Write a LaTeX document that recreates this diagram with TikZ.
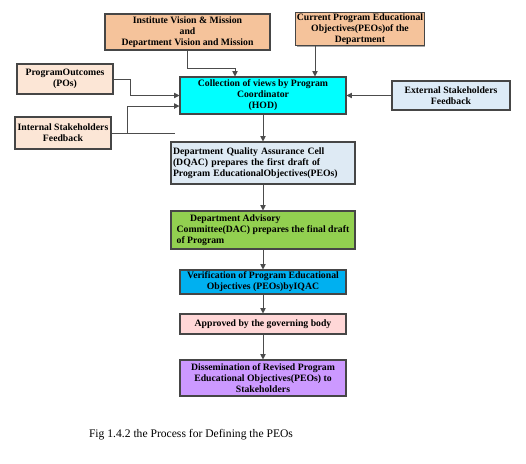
\documentclass[tikz,border=0pt]{standalone}
\usepackage{fontspec}
\setmainfont{Liberation Serif}
\usetikzlibrary{arrows.meta,shadows}
\definecolor{peachdark}{RGB}{245,195,155}
\definecolor{peachlight}{RGB}{252,230,214}
\definecolor{collcyan}{RGB}{0,255,255}
\definecolor{extblue}{RGB}{221,235,247}
\definecolor{dqacblue}{RGB}{222,234,244}
\definecolor{dacgreen}{RGB}{146,208,80}
\definecolor{verblue}{RGB}{0,176,240}
\definecolor{apppink}{RGB}{255,215,215}
\definecolor{dispurple}{RGB}{204,153,255}
\begin{document}
\begin{tikzpicture}[x=0.75pt,y=-0.75pt,
  box/.style={draw=gray!55!black, line width=0.8pt, align=center, inner sep=1pt,
    font=\fontsize{7.3}{8.3}\selectfont\bfseries,
    drop shadow={shadow xshift=0.8pt, shadow yshift=-0.8pt, fill=gray!70, opacity=1}},
  link/.style={draw=gray!60!black, line width=0.7pt},
  arr/.style={link, -{Triangle[length=4pt,width=4pt]}}]
\useasboundingbox (0,0) rectangle (526,464);
\node[box, fill=peachdark, minimum width=123.75pt, minimum height=27pt] (inst) at (187.5,32){Institute Vision \& Mission\\and\\Department Vision and Mission};
\node[box, fill=peachdark, minimum width=94.5pt, minimum height=24pt] (cpeo) at (360,29){Current Program Educational\\Objectives(PEOs)of the\\Department};
\node[box, fill=peachlight, minimum width=72pt, minimum height=22.5pt] (po) at (65,79){ProgramOutcomes\\(POs)};
\node[box, fill=collcyan, minimum width=124.5pt, minimum height=27.75pt] (coll) at (263,95.5){Collection of views by Program\\Coordinator\\(HOD)};
\node[box, fill=extblue, minimum width=88.5pt, minimum height=21.75pt] (ext) at (451,95.5){External Stakeholders\\Feedback};
\node[box, fill=peachlight, minimum width=72pt, minimum height=24pt] (isf) at (63,133){Internal Stakeholders\\Feedback};
\node[box, fill=dqacblue, minimum width=138pt, minimum height=31.5pt, align=left, text width=135pt] (dqac) at (263,163){Department Quality Assurance Cell\\(DQAC) prepares the first draft of\\Program EducationalObjectives(PEOs)};
\node[box, fill=dacgreen, minimum width=138pt, minimum height=28.5pt, align=left] (dac) at (263,230){\hspace*{10pt}Department Advisory\\Committee(DAC) prepares the final draft\\of Program};
\node[box, fill=verblue, minimum width=124.5pt, minimum height=18pt] (ver) at (263,282){Verification of Program Educational\\Objectives (PEOs)byIQAC};
\node[box, fill=apppink, minimum width=124.5pt, minimum height=15pt] (app) at (263,324){Approved by the governing body};
\node[box, fill=dispurple, minimum width=124.5pt, minimum height=27pt] (dis) at (263,378){Dissemination of Revised Program\\Educational Objectives(PEOs) to\\Stakeholders};
\node[font=\fontsize{8.7}{10}\selectfont] (cap) at (191,435){Fig 1.4.2 the Process for Defining the PEOs};
\draw[arr] (inst.south) -- ++(0,18) -| ([xshift=-21pt]coll.north);
\draw[arr] ([xshift=-33.75pt]cpeo.south) -- ([xshift=-33.75pt]cpeo.south |- coll.north);
\draw[arr] (po.east) -- ++(17,0) |- (coll.west);
\coordinate (isfend) at (175,133);
\draw[link] (isf.east) -- (isfend);
\draw[arr] ([xshift=12pt]isf.east) |- ([yshift=-7.9pt]coll.west);
\draw[arr] (ext.west) -- (coll.east);
\draw[arr] (coll) -- (dqac);
\draw[arr] (dqac) -- (dac);
\draw[arr] (dac) -- (ver);
\draw[arr] (ver) -- (app);
\draw[arr] (app) -- (dis);
\end{tikzpicture}
\end{document}
